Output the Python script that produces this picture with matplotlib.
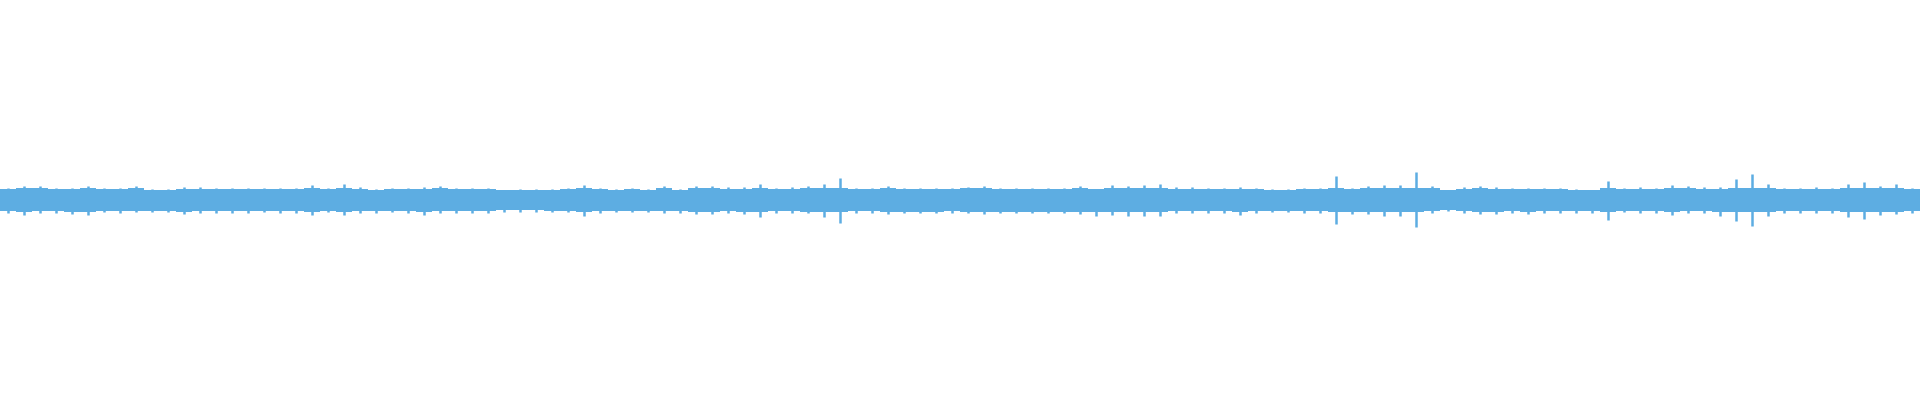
import matplotlib
matplotlib.use("Agg")
import matplotlib.pyplot as plt
import numpy as np

# peak amplitude per block (fraction of full scale), 120 blocks across the clip
peak_top = [
    0.058, 0.068, 0.068, 0.060, 0.060, 0.068, 0.060, 0.060, 0.068, 0.055,
    0.055, 0.065, 0.063, 0.060, 0.060, 0.060, 0.060, 0.060, 0.058, 0.073,
    0.058, 0.078, 0.065, 0.055, 0.058, 0.058, 0.063, 0.068, 0.058, 0.058,
    0.060, 0.050, 0.055, 0.053, 0.055, 0.058, 0.073, 0.060, 0.055, 0.060,
    0.055, 0.068, 0.055, 0.070, 0.068, 0.065, 0.065, 0.080, 0.060, 0.065,
    0.068, 0.078, 0.110, 0.058, 0.060, 0.068, 0.060, 0.060, 0.060, 0.060,
    0.065, 0.070, 0.060, 0.060, 0.060, 0.060, 0.058, 0.070, 0.055, 0.073,
    0.070, 0.075, 0.078, 0.065, 0.065, 0.058, 0.058, 0.065, 0.058, 0.055,
    0.055, 0.058, 0.060, 0.118, 0.060, 0.068, 0.073, 0.073, 0.138, 0.068,
    0.050, 0.065, 0.068, 0.065, 0.058, 0.058, 0.060, 0.060, 0.055, 0.050,
    0.093, 0.060, 0.065, 0.060, 0.073, 0.068, 0.065, 0.065, 0.103, 0.128,
    0.080, 0.060, 0.058, 0.065, 0.058, 0.078, 0.088, 0.070, 0.078, 0.060,
]
peak_bottom = [
    0.065, 0.073, 0.065, 0.065, 0.070, 0.073, 0.060, 0.065, 0.060, 0.060,
    0.058, 0.070, 0.065, 0.063, 0.065, 0.063, 0.060, 0.063, 0.063, 0.073,
    0.060, 0.075, 0.065, 0.063, 0.060, 0.065, 0.073, 0.065, 0.065, 0.065,
    0.065, 0.058, 0.058, 0.058, 0.060, 0.060, 0.078, 0.065, 0.060, 0.060,
    0.058, 0.063, 0.065, 0.070, 0.070, 0.063, 0.070, 0.085, 0.065, 0.065,
    0.065, 0.083, 0.115, 0.063, 0.063, 0.070, 0.065, 0.065, 0.065, 0.063,
    0.063, 0.070, 0.065, 0.063, 0.065, 0.065, 0.065, 0.070, 0.078, 0.073,
    0.078, 0.078, 0.080, 0.065, 0.065, 0.063, 0.063, 0.073, 0.063, 0.060,
    0.060, 0.065, 0.065, 0.120, 0.070, 0.070, 0.078, 0.078, 0.135, 0.065,
    0.053, 0.063, 0.070, 0.070, 0.065, 0.070, 0.063, 0.063, 0.063, 0.063,
    0.098, 0.060, 0.065, 0.065, 0.073, 0.065, 0.065, 0.078, 0.103, 0.128,
    0.080, 0.063, 0.063, 0.065, 0.065, 0.083, 0.093, 0.073, 0.070, 0.063,
]
# solid body of the waveform, 24 stretches of 5 blocks
body = [
    0.048, 0.048, 0.048, 0.048, 0.048, 0.048, 0.046, 0.048, 0.048, 0.048,
    0.050, 0.050, 0.052, 0.052, 0.048, 0.048, 0.048, 0.048, 0.048, 0.048,
    0.048, 0.048, 0.048, 0.048,
]

wave_color = "#5dade2"

fig = plt.figure(figsize=(19.2, 4), dpi=100)
ax = fig.add_axes([0, 0, 1, 1])

n = len(peak_top)
blocks = np.arange(n)
edges = np.arange(n + 1) - 0.5
top = np.array(peak_top)
bot = np.array(peak_bottom)
base = np.repeat(body, n // len(body))

# ragged edge: half way to the peaks, but never far above the core
edge_top = np.minimum((base + top) / 2, base + 0.01)
edge_bot = np.minimum((base + bot) / 2, base + 0.01)

ax.fill_between(edges, -np.append(base, base[-1]), np.append(base, base[-1]),
                step="post", color=wave_color, lw=0)
ax.fill_between(edges, -np.append(edge_bot, edge_bot[-1]),
                np.append(edge_top, edge_top[-1]),
                step="post", color=wave_color, lw=0)
ax.vlines(blocks, -bot, top, color=wave_color, lw=1.8)

ax.set_xlim(-0.5, n - 0.5)
ax.set_ylim(-1, 1)
ax.axis("off")

fig.savefig("out.png", dpi=100)
